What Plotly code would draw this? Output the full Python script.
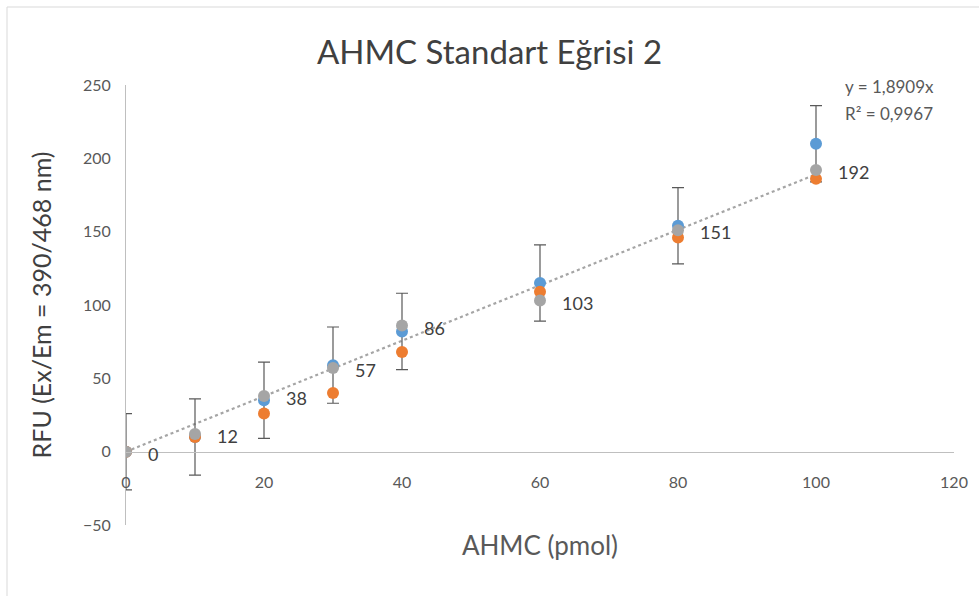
import plotly.graph_objects as go

# ---- data ----
x_pmol = [0, 10, 20, 30, 40, 60, 80, 100]
series_blue = [0, 10, 35, 59, 82, 115, 154, 210]
series_orange = [0, 10, 26, 40, 68, 109, 146, 186]
series_gray = [0, 12, 38, 57, 86, 103, 151, 192]
error_fixed = 26
trend_slope = 1.8909
trend_r2 = "0,9967"
x_ticks = [0, 20, 40, 60, 80, 100, 120]
y_ticks = [-50, 0, 50, 100, 150, 200, 250]

FONT = "Lato"
TXT = "#595959"

fig = go.Figure()

# trendline (linear through origin) for the gray series
trend_x = [x_pmol[0], x_pmol[-1]]
trend_y = [trend_slope * v for v in trend_x]
fig.add_trace(go.Scatter(x=trend_x, y=trend_y, mode="lines",
                         line=dict(color="#A5A5A5", width=2.2, dash="dot"),
                         hoverinfo="skip", showlegend=False))

fig.add_trace(go.Scatter(x=x_pmol, y=series_blue, mode="markers",
                         marker=dict(color="#5B9BD5", size=12),
                         error_y=dict(type="constant", value=error_fixed, color="#595959",
                                      thickness=1.2, width=6),
                         showlegend=False))
fig.add_trace(go.Scatter(x=x_pmol, y=series_orange, mode="markers",
                         marker=dict(color="#ED7D31", size=12), showlegend=False))
fig.add_trace(go.Scatter(x=x_pmol, y=series_gray, mode="markers",
                         marker=dict(color="#A5A5A5", size=12), showlegend=False))

annotations = []
for xv, yv in zip(x_pmol, series_gray):
    annotations.append(dict(x=xv, y=yv, xref="x", yref="y", text=str(yv),
                            showarrow=False, xanchor="left", yanchor="middle",
                            xshift=20, yshift=-2,
                            font=dict(family=FONT, size=18, color="#404040")))

eq_lines = [f"y = {str(trend_slope).replace('.', ',')}x", f"R² = {trend_r2}"]
for i, line in enumerate(eq_lines):
    annotations.append(dict(x=x_pmol[-1], y=trend_slope * x_pmol[-1], xref="x", yref="y",
                            text=line, showarrow=False, xanchor="left", yanchor="middle",
                            xshift=27, yshift=88 - 27 * i, align="left",
                            font=dict(family=FONT, size=17, color=TXT)))

fig.update_layout(
    width=979, height=596,
    margin=dict(l=126, r=25, t=85, b=71),
    paper_bgcolor="white", plot_bgcolor="white",
    title=dict(text="AHMC Standart Eğrisi 2", x=0.5, xanchor="center",
               y=1 - 52 / 596, yanchor="middle",
               font=dict(family=FONT, size=33, color="#404040")),
    font=dict(family=FONT, color=TXT),
    annotations=annotations,
    shapes=[dict(type="rect", xref="paper", yref="paper",
                 x0=(7 - 126) / 828, x1=1.2, y0=-0.5, y1=(525 - 7) / 440,
                 line=dict(color="#D9D9D9", width=1), fillcolor="rgba(0,0,0,0)",
                 layer="below")],
)

fig.update_xaxes(range=[0, 120], tickvals=x_ticks, showgrid=False, zeroline=False,
                 showline=True, linecolor="#BFBFBF", linewidth=1,
                 anchor="free", position=(0 - y_ticks[0]) / (y_ticks[-1] - y_ticks[0]),
                 ticks="", ticklabelstandoff=16,
                 tickfont=dict(family=FONT, size=16, color=TXT),
                 title=dict(text="AHMC (pmol)", standoff=46,
                            font=dict(family=FONT, size=26, color=TXT)))
fig.update_yaxes(range=[y_ticks[0], y_ticks[-1]], tickvals=y_ticks, showgrid=False,
                 zeroline=False, showline=True, linecolor="#BFBFBF", linewidth=1,
                 ticks="", ticklabelstandoff=11,
                 tickfont=dict(family=FONT, size=16, color=TXT),
                 title=dict(text="RFU (Ex/Em = 390/468 nm)", standoff=24,
                            font=dict(family=FONT, size=25, color="#404040")))

fig.write_html("out.html")
